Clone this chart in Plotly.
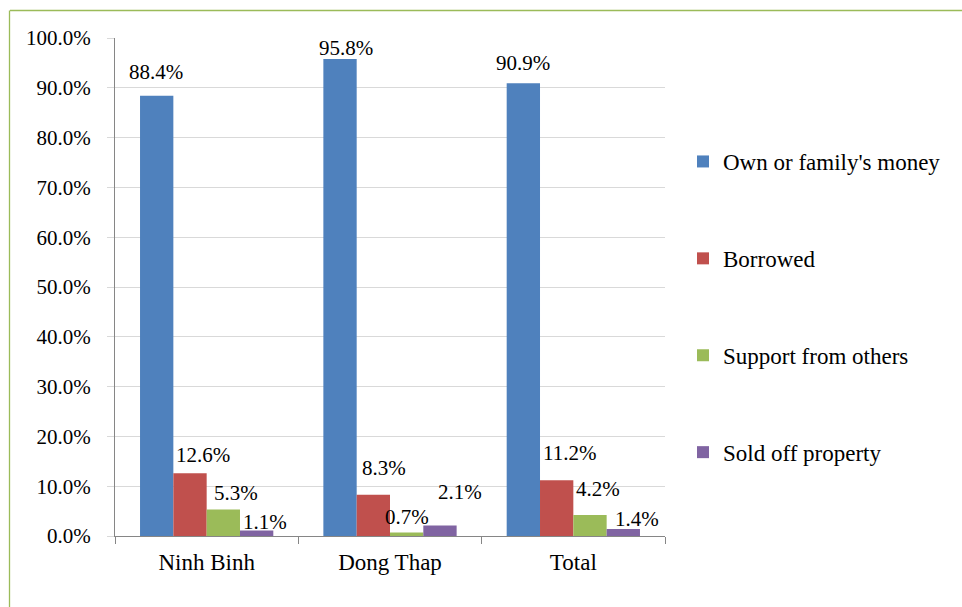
import plotly.graph_objects as go

# Funding sources by province (percent of households)
regions = ["Ninh Binh", "Dong Thap", "Total"]
series_names = ["Own or family's money", "Borrowed", "Support from others", "Sold off property"]
own_money = [88.4, 95.8, 90.9]
borrowed = [12.6, 8.3, 11.2]
support = [5.3, 0.7, 4.2]
sold_property = [1.1, 2.1, 1.4]
y_ticks = [0, 10, 20, 30, 40, 50, 60, 70, 80, 90, 100]

series_values = [own_money, borrowed, support, sold_property]
colors = ["#4F81BD", "#C0504D", "#9BBB59", "#8064A2"]

# Pixel nudges for each value label (dx right, dy above bar top), per series then region
label_nudge = [
    [(-1, 24), (6, 11), (0, 20)],
    [(13, 18), (11, 27), (13, 27)],
    [(13, 17), (0, 16), (8, 26)],
    [(8, 9), (20, 34), (14, 10)],
]

W, H = 962, 607
L, R, T, B = 115, 297, 38, 71
FONT = "Liberation Serif"
BARGAP = 0.273

fig = go.Figure()
for name, vals, col in zip(series_names, series_values, colors):
    fig.add_trace(go.Bar(
        x=regions, y=vals, name=name, marker=dict(color=col, line=dict(width=0)),
        legendgroup=name, hoverinfo="x+y+name",
    ))

# Value labels placed relative to each bar's position on the category axis
n = len(series_names)
bw = (1 - BARGAP) / n
annotations = []
for i, vals in enumerate(series_values):
    for c, v in enumerate(vals):
        dx, dy = label_nudge[i][c]
        annotations.append(dict(
            x=c + (i - (n - 1) / 2) * bw, y=v, xref="x", yref="y",
            text=f"{v:.1f}%", showarrow=False, xanchor="center", yanchor="middle",
            xshift=dx, yshift=dy, font=dict(family=FONT, size=21, color="#000000"),
        ))


def px_x(p):
    return (p - L) / (W - L - R)


def px_y(p):
    return (H - B - p) / (H - T - B)


border = "#9BBB59"
shapes = [
    dict(type="line", xref="paper", yref="paper", x0=px_x(10), x1=px_x(W + 5),
         y0=px_y(10.5), y1=px_y(10.5), line=dict(color=border, width=1.3)),
    dict(type="line", xref="paper", yref="paper", x0=px_x(9.5), x1=px_x(9.5),
         y0=px_y(10.5), y1=px_y(H + 5), line=dict(color=border, width=1.3)),
]

fig.update_layout(
    width=W, height=H,
    margin=dict(l=L, r=R, t=T, b=B, autoexpand=False),
    paper_bgcolor="white", plot_bgcolor="white",
    barmode="group", bargap=BARGAP, bargroupgap=0,
    font=dict(family=FONT, size=21, color="#000000"),
    annotations=annotations, shapes=shapes,
    legend=dict(
        x=px_x(683), y=px_y(307), xanchor="left", yanchor="middle",
        font=dict(family=FONT, size=23, color="#000000"),
        tracegroupgap=64, bgcolor="rgba(0,0,0,0)",
    ),
    xaxis=dict(
        type="category", showline=True, linecolor="#868686", linewidth=1,
        ticks="outside", tickson="boundaries", ticklen=7, tickcolor="#868686",
        tickfont=dict(family=FONT, size=23), showgrid=False, ticklabelstandoff=5,
    ),
    yaxis=dict(
        range=[0, 100], tickvals=y_ticks, ticktext=[f"{t:.1f}%" for t in y_ticks],
        showline=True, linecolor="#868686", linewidth=1,
        ticks="outside", ticklen=7, tickcolor="#d9d9d9",
        gridcolor="#d9d9d9", gridwidth=1, zeroline=False,
        tickfont=dict(family=FONT, size=21), ticklabelstandoff=12,
    ),
)

fig.write_html("out.html")
